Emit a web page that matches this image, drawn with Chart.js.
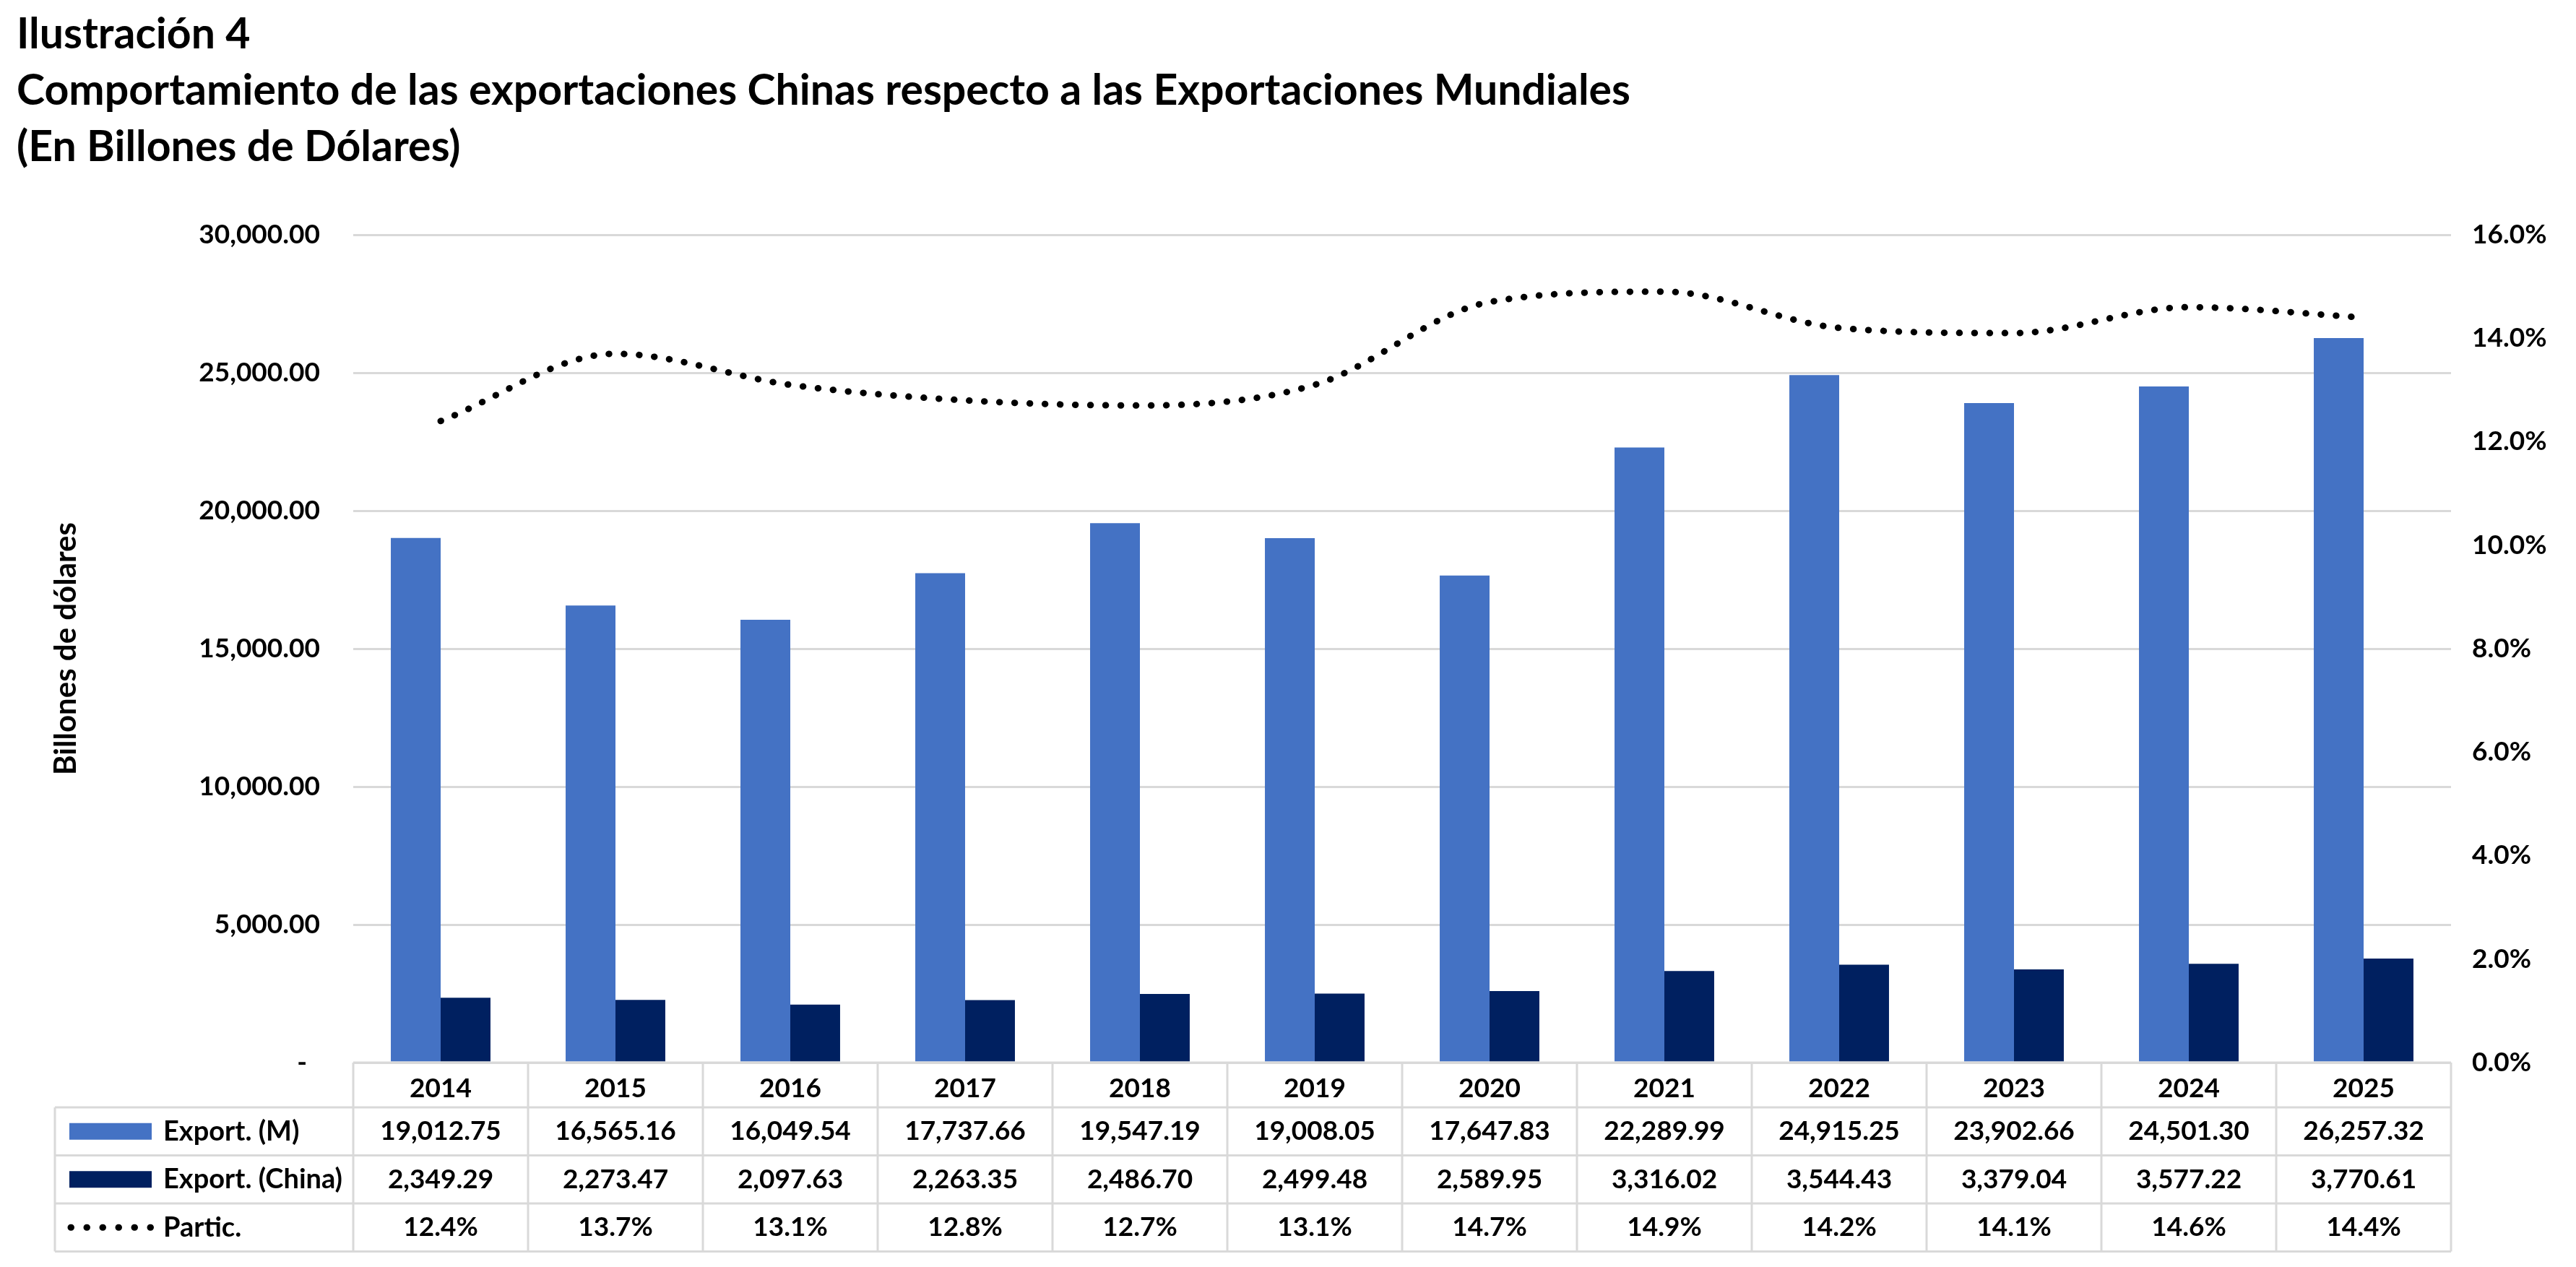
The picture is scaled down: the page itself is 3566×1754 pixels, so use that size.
<!DOCTYPE html>
<html lang="es">
<head>
<meta charset="UTF-8">
<title>Exportaciones Chinas vs Mundiales</title>
<style>
  html, body { margin: 0; padding: 0; background: #fff; }
  #wrap { width: 3566px; height: 1754px; }
</style>
</head>
<body>
<div id="wrap"><canvas id="chart"></canvas></div>
<script src="https://cdn.jsdelivr.net/npm/chart.js@4.4.1/dist/chart.umd.min.js"></script>
<script>
// datos
const years = ['2014', '2015', '2016', '2017', '2018', '2019', '2020', '2021', '2022', '2023', '2024', '2025']
const exportMundo = [19012.75, 16565.16, 16049.54, 17737.66, 19547.19, 19008.05, 17647.83, 22289.99, 24915.25, 23902.66, 24501.30, 26257.32]
const exportChina = [2349.29, 2273.47, 2097.63, 2263.35, 2486.70, 2499.48, 2589.95, 3316.02, 3544.43, 3379.04, 3577.22, 3770.61]
const partic = [12.4, 13.7, 13.1, 12.8, 12.7, 13.1, 14.7, 14.9, 14.2, 14.1, 14.6, 14.4]
const rowLabels = ['Export. (M)', 'Export. (China)', 'Partic.']

const COLOR_M = '#4472C4'
const COLOR_CHINA = '#002060'
const GRID = '#d9d9d9'
const FAMILY = 'Lato, "Open Sans", sans-serif'
const font = { family: FAMILY, size: 37, weight: 'bold' }

const fmtMoney = v => v.toLocaleString('en-US', { minimumFractionDigits: 2, maximumFractionDigits: 2 })
const fmtPct = v => v.toFixed(1) + '%'

// tabla de datos debajo del eje x (como en Excel)
const dataTable = {
  id: 'dataTable',
  afterDraw(chart) {
    const { ctx, chartArea, scales: { x } } = chart
    const colW = x.width / years.length
    const top = chartArea.bottom
    const headerH = 62
    const rowH = 66.5
    const tableLeft = 76
    const bottom = top + headerH + rowH * 3

    ctx.save()
    ctx.strokeStyle = GRID
    ctx.lineWidth = 3

    // lineas horizontales
    ctx.beginPath()
    ctx.moveTo(chartArea.left, top)
    ctx.lineTo(chartArea.right, top)
    for (let r = 0; r <= 3; r++) {
      const y = top + headerH + rowH * r
      ctx.moveTo(tableLeft, y)
      ctx.lineTo(chartArea.right, y)
    }
    // lineas verticales
    for (let i = 0; i <= years.length; i++) {
      const xx = chartArea.left + colW * i
      ctx.moveTo(xx, top)
      ctx.lineTo(xx, bottom)
    }
    ctx.moveTo(tableLeft, top + headerH)
    ctx.lineTo(tableLeft, bottom)
    ctx.stroke()

    // valores
    ctx.fillStyle = '#000'
    ctx.font = `bold ${font.size}px ${FAMILY}`
    ctx.textAlign = 'center'
    ctx.textBaseline = 'middle'
    const rows = [exportMundo.map(fmtMoney), exportChina.map(fmtMoney), partic.map(fmtPct)]
    rows.forEach((vals, r) => {
      const cy = top + headerH + rowH * r + rowH / 2
      vals.forEach((txt, i) => ctx.fillText(txt, x.getPixelForValue(i), cy))
    })

    // leyenda en la primera columna
    ctx.textAlign = 'left'
    ctx.font = `bold 38px ${FAMILY}`
    rowLabels.forEach((label, r) => {
      const cy = top + headerH + rowH * r + rowH / 2
      if (r < 2) {
        ctx.fillStyle = r === 0 ? COLOR_M : COLOR_CHINA
        ctx.fillRect(96, cy - 11.5, 114, 23)
      } else {
        ctx.save()
        ctx.strokeStyle = '#000'
        ctx.lineWidth = 9
        ctx.lineCap = 'round'
        ctx.setLineDash([0.5, 21.5])
        ctx.beginPath()
        ctx.moveTo(98, cy)
        ctx.lineTo(209, cy)
        ctx.stroke()
        ctx.restore()
      }
      ctx.fillStyle = '#000'
      ctx.fillText(label, 226, cy)
    })
    ctx.restore()
  }
}

new Chart(document.getElementById('chart'), {
  data: {
    labels: years,
    datasets: [
      {
        type: 'line',
        label: 'Partic.',
        data: partic,
        yAxisID: 'y1',
        borderColor: '#000',
        borderWidth: 9,
        borderDash: [0.5, 20.5],
        borderCapStyle: 'round',
        pointRadius: 0,
        cubicInterpolationMode: 'monotone',
        fill: false,
        order: 0
      },
      {
        type: 'bar',
        label: 'Export. (M)',
        data: exportMundo,
        yAxisID: 'y',
        backgroundColor: COLOR_M,
        borderWidth: 0,
        barPercentage: 1,
        categoryPercentage: 0.57,
        order: 1
      },
      {
        type: 'bar',
        label: 'Export. (China)',
        data: exportChina,
        yAxisID: 'y',
        backgroundColor: COLOR_CHINA,
        borderWidth: 0,
        barPercentage: 1,
        categoryPercentage: 0.57,
        order: 1
      }
    ]
  },
  options: {
    responsive: true,
    maintainAspectRatio: false,
    animation: false,
    layout: { padding: { left: 23, right: 0, top: 0, bottom: 0 } },
    plugins: {
      legend: { display: false },
      tooltip: { enabled: false },
      title: {
        display: true,
        align: 'start',
        color: '#000',
        text: [
          'Ilustración 4',
          'Comportamiento de las exportaciones Chinas respecto a las Exportaciones Mundiales',
          '(En Billones de Dólares)'
        ],
        font: { family: FAMILY, size: 59, weight: 'bold', lineHeight: 78 / 59 },
        padding: { top: 9, bottom: 82 }
      }
    },
    scales: {
      x: {
        grid: { display: false, drawTicks: false },
        border: { display: false },
        ticks: { font, color: '#000', padding: 14, maxRotation: 0 },
        afterFit(s) { s.height = 283 }
      },
      y: {
        position: 'left',
        min: 0,
        max: 30000,
        ticks: {
          stepSize: 5000,
          padding: 46,
          font,
          color: '#000',
          callback: v => v === 0 ? '-  ' : fmtMoney(v)
        },
        grid: { color: GRID, lineWidth: 3, drawTicks: false },
        border: { display: false },
        title: {
          display: true,
          text: 'Billones de dólares',
          color: '#000',
          font: { family: FAMILY, size: 42, weight: 'bold' },
          padding: { top: 43, bottom: 0 }
        },
        afterFit(s) { s.width = 466 }
      },
      y1: {
        position: 'right',
        min: 0,
        max: 16,
        ticks: {
          stepSize: 2,
          padding: 29,
          font,
          color: '#000',
          callback: v => fmtPct(v)
        },
        grid: { display: false, drawTicks: false },
        border: { display: false },
        afterFit(s) { s.width = 173 }
      }
    }
  },
  plugins: [dataTable]
})
</script>
</body>
</html>
